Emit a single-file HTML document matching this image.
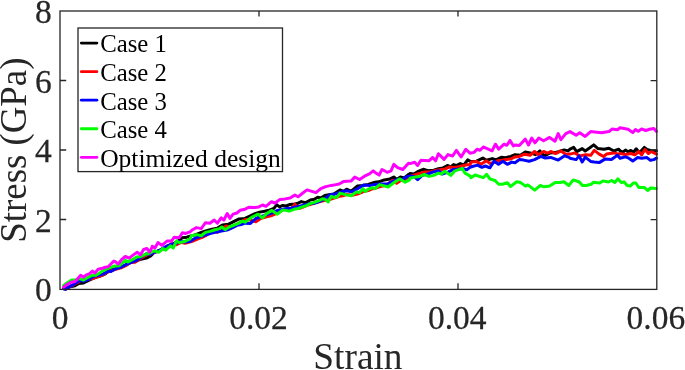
<!DOCTYPE html>
<html><head><meta charset="utf-8"><style>
html,body{margin:0;padding:0;background:#fff;}
svg{display:block;will-change:transform;}
text{font-family:"Liberation Serif",serif;}
.tk text{fill:#262626;stroke:#262626;stroke-width:0.25px;}
.lg text{fill:#000;}
.al{fill:#262626;}
</style></head><body>
<svg width="685" height="370" viewBox="0 0 685 370">
<rect x="0" y="0" width="685" height="370" fill="#fff"/>
<g fill="none" stroke-linejoin="round" stroke-linecap="round" stroke-width="3.0">
<polyline stroke="#000" points="63.8,288.3 68,287.2 75,285.7 78.8,283.4 83.5,282.9 89.2,280.1 95.8,277.2 99.6,276.3 105.3,273.9 109,271.1 112.8,269.2 115,268.9 120.4,267.3 125.8,265.1 130.1,262.4 136.6,260.8 140.9,259.2 146.4,258.1 150.7,255.9 154.3,252.3 158.6,251.2 164.1,248 169.5,245.3 173.8,243.6 178.1,240.9 182.4,237.7 186.8,237.2 190,236.1 195.8,234.6 201.2,232.4 206.6,230.8 212,229.2 217.4,228.1 222.8,224.9 228.2,224.3 233.6,221.6 239.1,218.9 245,218.4 250.4,215.8 255,213.6 259.7,212.1 264.5,211.2 269.2,210.2 273.9,208.4 276.7,204.8 279.6,206.9 282.4,205.5 286.2,206 290,204.4 294.9,204 298.1,203.2 301.3,201.6 305.4,202.8 310.3,200 314.3,199.2 317.6,197.2 320.8,198 324.8,195.5 328.9,194.7 333.8,193.9 340,189.9 343.4,191.4 346.6,189.2 351,191.4 357.5,186 362.9,185.4 368.3,184.4 375,182.2 378.7,181.8 384.3,179.9 390,178.9 393.8,177 396.6,179.4 400.4,177 404.2,178 408.9,174.2 410,173.6 413.8,174 417.6,171.7 423.2,169.3 428,170.7 433.7,170.2 438.4,168.8 443.1,167.9 447.4,165.5 450.7,166.9 453.5,164.6 456.4,165.5 460.2,163.6 463.9,165 467.7,159.8 470,161.2 471.4,161.6 476.6,161.2 482.8,158.1 486.3,160.3 492.4,158.6 495.9,159.9 501.2,157.3 505.5,157.7 510.8,156.4 515,154.7 520.4,155.3 525.3,152 531.2,153.1 535.5,154.7 539.9,150.9 544.2,155.8 549.6,153.1 555,152.6 559.3,151.5 564.2,149.9 568,150.9 570,149.2 573.7,147.4 576.7,151.6 582.2,148.6 585.2,151 589.5,148 593.7,144.9 598,148.6 604.1,149.2 608.9,148.2 613.8,151 618.7,149.2 620,150.8 622.7,152.2 625.4,150.1 628.1,151.8 630.8,150.4 633.5,152.2 636.2,148.8 638.9,152.2 641.6,150.4 644.3,147.4 647,149.5 651.1,150.8 656.5,150.8"/>
<polyline stroke="#f00" points="63.8,288.6 66,289 71.6,285.6 77.4,282.6 81.6,280 88.2,279.4 92.9,278.5 98.3,276.6 103.7,274.5 108.1,271.8 114.8,269.6 121,267.8 125.2,265.9 130.9,262.4 135,262.2 140.5,258.5 147.1,254.8 153.9,252.7 160.3,250.1 167.1,247.2 171.4,243.8 176,244.8 181.3,242.3 185,243.2 191.5,241.6 198,238.8 203,237 206.6,235.1 210.9,232.4 214.2,229.7 217.4,232.4 221.8,229.2 226.1,225.9 230.4,228.1 235.8,224.9 240.1,222.7 243.9,220.5 245,219.6 250.4,220.1 255.8,221.8 261.2,218.2 266.6,216.9 272,215.5 277.4,213.1 282.8,209.8 288.2,209.3 290,210.2 294.9,204.2 298.9,208.6 303,207 307,205.4 311.1,204.2 315.1,202.9 319.2,201.7 324,200.5 328.9,199.7 334.2,198.1 338.6,196.5 342.6,195.7 346.6,194.6 352.1,195.2 357.5,194.1 362.9,191.9 368.3,190.6 372.6,188.7 375,188.4 378.7,187 386.2,185.1 392.9,180.3 396.6,183.2 401.4,179.9 406.1,179.4 410,176.4 417.6,174 424.2,172.1 428.9,172.1 436.5,170.2 444.1,169.3 449.7,166.9 454.5,167.4 460.2,166.5 465.8,165 470,164.6 471.4,162.1 476.6,161.6 481,164.3 486.3,160.8 489.8,163.4 495,162.1 497.7,160.8 502,160.3 506.4,159.4 510.8,159 515,156.9 519.3,156.4 524.7,154.2 530.1,155.3 534.5,151.5 538.2,154.7 543.6,151.5 547.4,153.1 551.2,151.5 555.5,153.6 560.9,150.9 565.8,154.2 570,154.1 574.9,152.9 579.7,155.9 585.8,154.7 590.7,155.3 594.3,150.4 599.2,154.1 603.5,156.5 606.5,154.1 613.8,152.9 618.7,154.1 620,153.5 625.4,154.5 630.8,153.5 634.9,154.9 638.9,151.5 641.6,154.9 645,149.5 648.4,153.5 651.1,151.5 656.5,154.2"/>
<polyline stroke="#00f" points="64,289 65.7,289.4 69,287 72.8,284.9 75,283.4 79.7,280.5 83.5,281 88.2,279.6 93.9,276.3 98.6,275.3 103.4,273.9 108.1,271.1 110.9,271.5 114.7,269.2 120.4,267.3 125.8,264.6 131.2,262.4 136.6,260.3 142,256.5 146.4,253.8 150.7,254.3 154.3,252.3 160.8,249.6 167.3,245.8 171.6,244.2 175.9,243.3 180.3,241.5 184.6,242 190,241.5 195.8,237.8 201.2,236.2 206.6,234.6 212,233 217.4,231.9 222.8,230.8 228.2,229.7 232.6,227.6 236.9,225.4 241.2,224.6 245,223.2 250.4,223.4 255.8,218.5 261.2,216.4 272,213.1 277.4,210.4 288.2,208.2 290,208.5 294.9,207.3 299.7,206.1 306.2,204.4 311.1,203.6 314.3,203.2 319.2,201.6 324.8,198.8 330.5,194.7 335.4,193.9 340,192.3 346.6,190.8 352.1,191.9 357.5,188.7 364,184.9 370.5,185.4 375,184.4 379.6,184.1 388.1,183.7 392.9,181.3 397.6,179.4 402.3,179.4 407.1,176.6 410,175.9 413.8,176.4 417.6,179.7 422.3,175.4 428,174 432.7,172.1 438.4,170.7 442.2,174 447.9,172.1 452.6,169.8 457.3,169.3 463,168.8 466.8,169.8 470,167.4 472.3,166.5 477.5,165.1 481.9,167.3 485.4,166 489.8,167.8 494.2,161.2 498.5,164.3 502.9,161.2 507.3,164.3 511.7,162.1 515,162.8 519.3,159.6 523.6,160.1 529.1,161.2 534.5,159.6 540.9,156.4 545.3,158 550.7,157.4 558.2,160.1 564.7,155.8 569.1,157.4 570,158.3 576.1,159.6 579.1,155.9 582.2,162 585.2,157.1 590.7,161.4 594.3,162 599.2,162.6 605.3,158.9 611.4,159.6 617.5,155.3 620,158.2 625.4,156.9 628.8,158.2 632.8,160.9 637.6,157.6 641.6,158.2 647,157.6 650.4,160.3 653.8,159.6 656.5,158.2"/>
<polyline stroke="#0f0" points="63.6,285.4 67,283 71.6,280.1 75,280.1 79.7,278.6 83.5,280.1 87.3,277.7 92,275.3 95.8,275.3 99.6,273 103.4,270.6 107.2,268.7 110.9,267.3 114.7,265.9 119.3,265.7 125.3,260.3 128,261.9 132.3,259.7 136.6,257 140.9,256.5 145.3,254.3 149.6,253.2 154.3,250.7 158.6,252.3 163,248.5 165.7,250.1 170.5,245.8 173.2,248 176.5,240.9 179.2,242.6 184.6,241.5 190,238.8 191.5,235.7 196.9,234.6 201.2,235.7 205.5,232.4 209.9,231.4 215.3,229.7 219.6,228.6 221.8,227 225,229.7 229.3,227 234.7,224.9 239.1,223.2 242.3,221.1 245,222.2 251.5,217.4 258,214.2 262.3,218 266.6,213.6 272,210.4 277.4,214.2 282.8,209.9 288.2,210.9 290,210.9 294.1,209.3 298.1,208.5 302.2,206.9 306.2,205.7 310.3,203.6 314.3,202.4 318.4,200.8 322.4,198.8 325.7,199.6 328.1,202 331.3,196.3 334.6,197.6 337.8,196.3 340,193.1 345.6,194.6 351,195.7 356.4,191.9 359.6,192.5 362.9,188.7 365,191.4 368.3,189.2 372.6,187.6 375,188.7 379.6,184.6 388.1,187 393.8,182.7 399.5,178.9 405.2,182.2 409.4,179.9 410,178.3 415.7,176.9 419.5,176.4 424.2,174.5 428.9,176.4 433.7,175.4 438.4,173.1 441.2,174 445,171.2 450.7,175.4 454.5,171.2 462.1,168.3 464.9,173.1 470,175.9 471,177.7 475.1,175 483.2,177.7 486.6,174.3 490,179 495,180.5 498.7,184.3 502.4,184.3 507.4,182.8 510.5,186.5 516.7,181.8 520.4,182.4 525.4,186.1 527.9,184.9 534.7,190.1 540.3,185.5 544,186.8 549.6,186.1 555.2,182.4 560.1,182.4 563.9,181.8 568.8,185.5 573.2,179.9 579.3,182 582.4,185.5 586.2,185.5 591.1,184.3 593.6,182.2 599.8,183 602.9,180.9 608.5,182 611.6,180.5 614.7,182.4 617.8,178.9 621.5,182.7 624,181.8 627.1,185.5 630.2,186.1 633.3,183 635.8,183 638.9,187.6 644.5,187.6 647.6,190.5 650.7,188 656.3,188.4"/>
<polyline stroke="#f0f" points="63.6,287.2 67,284.5 71,282.2 75,281.5 77.8,278.6 80.7,275.3 83.5,277.2 86.3,274.9 89.2,273.9 92.5,271.1 94.9,273 98.2,269.2 102.4,268.2 105.3,267.3 108.1,266.8 110.9,264 113.8,261.1 115,261.4 118.2,264.1 121.5,259.7 125.3,256.5 129.1,258.1 133.4,254.9 137.2,252.2 140.4,254.9 143.6,249.5 146.9,248.4 149.6,252.2 152.2,246.9 152.3,246.2 154.9,248 158.1,242.6 161.9,245.3 167.3,240.9 171.6,240.9 174.3,237.2 179.2,237.7 182.4,232.8 185.7,233.4 190,231.8 192.6,229.7 196.4,227.6 201.2,228.6 205.5,222.7 209.9,223.2 214.2,220 217.4,223.2 221.2,217.8 223.9,220 227.2,213.5 229.9,218.4 233.1,214.1 236.9,213 240.1,210.3 245,209.2 249.3,207.2 255,207.4 258.8,206.9 262.6,205 265.9,206.3 271.5,201.7 274.8,203.2 280,199.4 285.2,198.9 290,198 294.9,195.1 298.1,196.8 302.2,193.5 307,189.9 311.1,191.1 315.9,192.7 320.8,188.6 325.7,186.6 331.3,185.4 333.7,185.1 339.1,184 343.4,181.6 351,181.1 354.8,177.1 359.6,179.5 364.5,176.2 369.4,173.9 373.2,170.8 375,172.4 379.1,175.1 382,169.5 387.2,172.3 391,170.9 393.8,164.3 397.6,167.6 402.8,169.5 408.5,163.3 410,163.6 414.7,162.2 417.6,165.5 420.9,160.3 428.9,160.8 432.7,157.5 435.6,160.8 438.4,153.7 444.1,159.4 447.9,154.6 452.6,156 456.4,150.4 461.1,157 465.8,149.4 470,153.2 474,152.4 477.3,149.2 480,150.3 483.3,147 487.2,148.6 492.1,150.8 495.4,144.2 498.7,149.2 504.1,144.2 506.9,145.3 510.1,140.4 513.4,145.9 515,145 519.3,145.5 525.3,139.1 528.5,145 531.8,138 535,142.8 538.8,138 543.6,140.7 549.6,137.4 555,141.2 558.2,133.6 560.9,139.6 565.8,133.6 570,131.6 576.1,135.2 579.7,132.8 585.2,136.4 590.7,131.6 596.8,132.2 601.6,132.8 608.9,131.6 612,129.1 617.5,129.7 620,127.8 624.1,128.5 628.1,129.2 632.8,132.6 635.5,129.6 638.2,131.2 641.6,128.9 645.7,130.5 649.7,129.2 653.8,128.5 656.5,131.5"/>
</g>
<g fill="none" stroke="#262626" stroke-width="1.3">
<rect x="60" y="11" width="596.8" height="278.4"/>
<path d="M60,80.5h6.2M60,150h6.2M60,219.5h6.2M650.6,80.6h6.2M650.6,150.1h6.2M650.6,219.6h6.2M259,289.4v-6.2M458,289.4v-6.2M259,11v5.5M458,11v5.5"/>
</g>
<g class="tk" font-size="33.5" text-anchor="end">
<text transform="translate(51.8,23.3) scale(1,1.032)">8</text>
<text transform="translate(51.8,92.8) scale(1,1.032)">6</text>
<text transform="translate(51.8,162.3) scale(1,1.032)">4</text>
<text transform="translate(51.8,231.8) scale(1,1.032)">2</text>
<text transform="translate(51.8,301.3) scale(1,1.032)">0</text>
</g>
<g class="tk" font-size="33.5" text-anchor="middle">
<text transform="translate(60,328.7) scale(1,1.032)">0</text>
<text transform="translate(258.5,328.7) scale(1,1.032)">0.02</text>
<text transform="translate(457.2,328.7) scale(1,1.032)">0.04</text>
<text transform="translate(655.9,328.7) scale(1,1.032)">0.06</text>
</g>
<text transform="translate(357.9,369.0) scale(0.995,1.0234)" font-size="37.54" text-anchor="middle" class="al">Strain</text>
<text transform="translate(26.3,150.1) rotate(-90) scale(1,1.03)" font-size="36.84" text-anchor="middle" class="al">Stress (GPa)</text>
<rect x="78" y="28" width="204.5" height="143.6" fill="#fff" stroke="#262626" stroke-width="1.3"/>
<g stroke-width="2.8">
<line x1="81.3" y1="43.1" x2="96.9" y2="43.1" stroke="#000" stroke-linecap="round"/>
<line x1="81.3" y1="71.65" x2="96.9" y2="71.65" stroke="#f00" stroke-linecap="round"/>
<line x1="81.3" y1="100.2" x2="96.9" y2="100.2" stroke="#00f" stroke-linecap="round"/>
<line x1="81.3" y1="128.75" x2="96.9" y2="128.75" stroke="#0f0" stroke-linecap="round"/>
<line x1="81.3" y1="157.3" x2="96.9" y2="157.3" stroke="#f0f" stroke-linecap="round"/>
</g>
<g class="lg" font-size="24.8">
<text transform="translate(100.2,52.3) scale(1,1.035)">Case 1</text>
<text transform="translate(100.2,80.9) scale(1,1.035)">Case 2</text>
<text transform="translate(100.2,109.5) scale(1,1.035)">Case 3</text>
<text transform="translate(100.2,138.1) scale(1,1.035)">Case 4</text>
<text transform="translate(100.2,166.7) scale(1.029,1.035)">Optimized design</text>
</g>
</svg>
</body></html>
